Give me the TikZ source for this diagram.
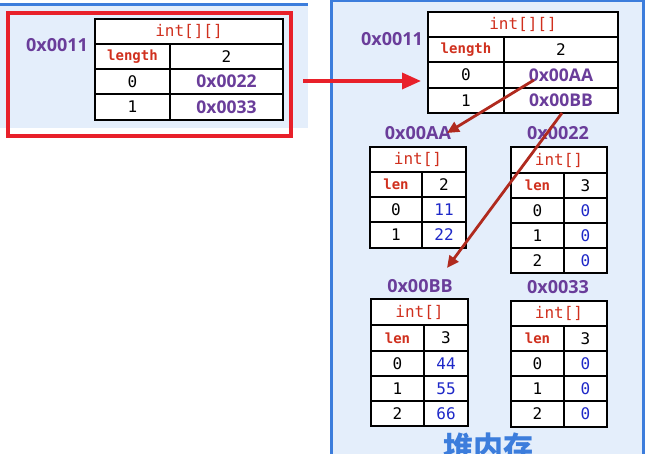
\documentclass[tikz,border=0pt]{standalone}
\usepackage{fontspec}
\setmainfont{Open Sans}
\setmonofont{DejaVu Sans Mono}
\newfontfamily\cjk{Noto Sans CJK SC}
\usetikzlibrary{arrows.meta}
\definecolor{addr}{HTML}{6A3D9A}
\definecolor{typ}{HTML}{D0301E}
\definecolor{darr}{HTML}{B02A1E}
\definecolor{brr}{HTML}{E8202A}
\definecolor{pbg}{HTML}{E4EEFB}
\definecolor{pbd}{HTML}{3C7DDC}
\definecolor{num}{HTML}{1E28C8}
\tikzset{
  x=1pt,y=-1pt,
  cellst/.style={draw=black, line width=2.4pt, fill=white, inner sep=0pt, font=\ttfamily\fontsize{16}{16}\selectfont},
  typet/.style={text=typ},
  lent/.style={text=typ, font=\ttfamily\bfseries\fontsize{14}{14}\selectfont},
  addrt/.style={text=addr, font=\bfseries\fontsize{18}{18}\selectfont},
  cella/.style={text=addr, font=\bfseries\fontsize{17.5}{17.5}\selectfont},
  numt/.style={text=num},
  darrow/.style={draw=darr, line width=2.8pt, -{Triangle[length=12pt,width=11pt]}},
  barrow/.style={draw=brr, line width=3.5pt, -{Triangle[length=19pt,width=16pt]}},
}
\newcommand\cellbox[7][]{\node[cellst,#1, minimum width={(#5-#3)*1pt}, minimum height={(#6-#4)*1pt}] (#2) at ({(#3+#5)/2},{(#4+#6)/2}) {#7};}
\begin{document}
\begin{tikzpicture}
\useasboundingbox (0,0) rectangle (653,454);
\fill[white] (0,0) rectangle (653,454);
% left panel
\fill[pbg] (0,5) rectangle (308,128);
\draw[pbd, line width=3pt] (0,5) -- (308,5);
\draw[brr, line width=3.2pt] (8,13) rectangle (291,136);
% right panel
\fill[pbg] (331,1) rectangle (643,460);
\draw[pbd, line width=3pt] (331,460) -- (331,1) -- (643,1) -- (643,460);
% left table
\cellbox[typet]{la}{95}{19}{283}{44}{int[][]}
\cellbox[lent]{lb}{95}{44}{170}{69}{length}
\cellbox{lc}{170}{44}{283}{69}{2}
\cellbox{ld}{95}{69}{170}{94}{0}
\cellbox[cella]{le}{170}{69}{283}{94}{0x0022}
\cellbox{lf}{95}{94}{170}{120}{1}
\cellbox[cella]{lg}{170}{94}{283}{120}{0x0033}
\node[addrt] (laddr) at (57,45) {0x0011};
% right top table
\cellbox[typet]{ra}{428}{12}{618}{37}{int[][]}
\cellbox[lent]{rb}{428}{37}{504}{62}{length}
\cellbox{rc}{504}{37}{618}{62}{2}
\cellbox{rd}{428}{62}{504}{88}{0}
\cellbox[cella]{re}{504}{62}{618}{88}{0x00AA}
\cellbox{rf}{428}{88}{504}{113}{1}
\cellbox[cella]{rg}{504}{88}{618}{113}{0x00BB}
\node[addrt] (raddr) at (392,39) {0x0011};
% AA table
\node[addrt] (aaaddr) at (418,133) {0x00AA};
\cellbox[typet]{aa}{370}{147}{466}{172}{int[]}
\cellbox[lent]{ab}{370}{172}{422}{197}{len}
\cellbox{ac}{422}{172}{466}{197}{2}
\cellbox{ad}{370}{197}{422}{222}{0}
\cellbox[numt]{ae}{422}{197}{466}{222}{11}
\cellbox{af}{370}{222}{422}{248}{1}
\cellbox[numt]{ag}{422}{222}{466}{248}{22}
% 22 table
\node[addrt] (tt) at (558,133) {0x0022};
\cellbox[typet]{ba}{511}{147}{607}{173}{int[]}
\cellbox[lent]{bb}{511}{173}{564}{198}{len}
\cellbox{bc}{564}{173}{607}{198}{3}
\cellbox{bd}{511}{198}{564}{223}{0}
\cellbox[numt]{be}{564}{198}{607}{223}{0}
\cellbox{bf}{511}{223}{564}{248}{1}
\cellbox[numt]{bg}{564}{223}{607}{248}{0}
\cellbox{bh}{511}{248}{564}{273}{2}
\cellbox[numt]{bi}{564}{248}{607}{273}{0}
% BB table
\node[addrt] (bbaddr) at (420,286) {0x00BB};
\cellbox[typet]{ca}{371}{299}{468}{325}{int[]}
\cellbox[lent]{cb}{371}{325}{424}{351}{len}
\cellbox{cc}{424}{325}{468}{351}{3}
\cellbox{cd}{371}{351}{424}{376}{0}
\cellbox[numt]{ce}{424}{351}{468}{376}{44}
\cellbox{cf}{371}{376}{424}{401}{1}
\cellbox[numt]{cg}{424}{376}{468}{401}{55}
\cellbox{ch}{371}{401}{424}{426}{2}
\cellbox[numt]{ci}{424}{401}{468}{426}{66}
% 33 table
\node[addrt] (ttt) at (558,287) {0x0033};
\cellbox[typet]{da}{511}{301}{607}{326}{int[]}
\cellbox[lent]{db}{511}{326}{564}{351}{len}
\cellbox{dc}{564}{326}{607}{351}{3}
\cellbox{dd}{511}{351}{564}{376}{0}
\cellbox[numt]{de}{564}{351}{607}{376}{0}
\cellbox{df}{511}{376}{564}{401}{1}
\cellbox[numt]{dg}{564}{376}{607}{401}{0}
\cellbox{dh}{511}{401}{564}{427}{2}
\cellbox[numt]{di}{564}{401}{607}{427}{0}
% heap label
\node[text=pbd, font=\cjk\bfseries\fontsize{30}{30}\selectfont] (heap) at (488,447) {堆内存};
% arrows
\coordinate (s1) at (303,81);
\coordinate (e1) at (421,81);
\draw[barrow] (s1) -- (e1);
\coordinate (s2) at (534,80);
\coordinate (e2) at (447,133);
\draw[darrow] (s2) -- (e2);
\coordinate (s3) at (562,113);
\coordinate (e3) at (447,268);
\draw[darrow] (s3) -- (e3);
\end{tikzpicture}
\end{document}
